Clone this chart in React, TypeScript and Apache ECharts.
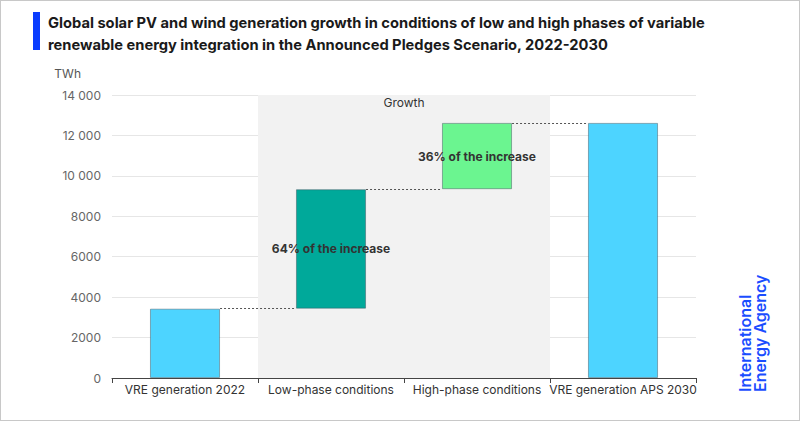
import React, { useEffect, useRef } from "react";
import * as echarts from "echarts";

const categories = ["VRE generation 2022", "Low-phase conditions", "High-phase conditions", "VRE generation APS 2030"];
const start2022 = 3430;
const increases = [5910, 3280];
const barColors = ["#4dd4ff", "#00a99a", "#6bf590", "#4dd4ff"];
const yTicks = { min: 0, max: 14000, interval: 2000 };
const growthRange = [1, 3];

const total = start2022 + increases.reduce((a, b) => a + b, 0);
const sumInc = increases.reduce((a, b) => a + b, 0);
const baseValues: number[] = [0];
const visValues: number[] = [start2022];
let cum = start2022;
increases.forEach((v) => {
  baseValues.push(cum);
  visValues.push(v);
  cum += v;
});
baseValues.push(0);
visValues.push(total);
const tops = visValues.map((v, i) => v + baseValues[i]);
const labelTexts = visValues.map((v, i) =>
  i > 0 && i < visValues.length - 1 ? `${Math.round((v / sumInc) * 100)}% of the increase` : ""
);

const BAR_RATIO = 0.48;

export default function App() {
  const ref = useRef<HTMLDivElement>(null);
  useEffect(() => {
    if (!ref.current) return;
    const chart = echarts.init(ref.current, null, { renderer: "svg" });
    const hw = BAR_RATIO / 2;
    const connectors = tops.slice(0, -1).map((v, i) => [
      { coord: [i + 0.5 + hw, v] },
      { coord: [i + 1.5 - hw, v] },
    ]);
    const font = "Inter, 'Noto Sans', sans-serif";
    chart.setOption({
      animation: false,
      textStyle: { fontFamily: font },
      grid: { left: 112, right: 104, top: 95, bottom: 43 },
      xAxis: [
        {
          type: "category",
          data: categories,
          axisLine: { lineStyle: { color: "#444", width: 1 } },
          axisTick: { show: true, length: 5, lineStyle: { color: "#444" } },
          axisLabel: { color: "#333", fontSize: 12, margin: 5, interval: 0, fontFamily: font },
          z: 5,
        },
        { type: "value", min: 0, max: categories.length, show: false },
      ],
      yAxis: {
        type: "value",
        min: yTicks.min,
        max: yTicks.max,
        interval: yTicks.interval,
        name: "TWh",
        nameGap: 16,
        nameTextStyle: { color: "#555", fontSize: 12, align: "right", padding: [0, 31, 0, 0], fontFamily: font },
        axisLine: { show: false },
        axisTick: { show: false },
        splitLine: { lineStyle: { color: "#e6e6e6", width: 1 } },
        axisLabel: {
          color: "#666",
          fontSize: 12,
          margin: 11,
          fontFamily: font,
          formatter: (v: number) => (v >= 10000 ? `${Math.floor(v / 1000)} ${String(v % 1000).padStart(3, "0")}` : String(v)),
        },
      },
      series: [
        {
          type: "line",
          xAxisIndex: 1,
          yAxisIndex: 0,
          data: [],
          z: 1,
          silent: true,
          markArea: {
            silent: true,
            itemStyle: { color: "#f2f2f2" },
            label: { show: true, position: "insideTop", color: "#333", fontSize: 12, distance: 1, fontFamily: font },
            data: [[{ name: "Growth", coord: [growthRange[0], yTicks.max] }, { coord: [growthRange[1], yTicks.min] }]],
          },
          markLine: {
            silent: true,
            symbol: "none",
            label: { show: false },
            lineStyle: { type: [2, 2], color: "#555", width: 1 },
            data: connectors,
          },
        },
        {
          type: "bar",
          stack: "w",
          barWidth: `${BAR_RATIO * 100}%`,
          data: baseValues,
          itemStyle: { color: "transparent" },
          silent: true,
          z: 3,
        },
        {
          type: "bar",
          stack: "w",
          barWidth: `${BAR_RATIO * 100}%`,
          z: 3,
          data: visValues.map((v, i) => ({
            value: v,
            itemStyle: { color: barColors[i], borderColor: "rgba(60,80,90,0.45)", borderWidth: 1 },
            label: {
              show: labelTexts[i] !== "",
              position: "inside",
              formatter: () => labelTexts[i],
              color: "#333",
              fontSize: 12,
              fontWeight: "bold",
              fontFamily: font,
            },
          })),
        },
      ],
      graphic: [
        { type: "rect", left: 33, top: 12, shape: { width: 7, height: 38 }, style: { fill: "#0a3cff" } },
        {
          type: "text",
          left: 48,
          top: 12,
          style: {
            text: "Global solar PV and wind generation growth in conditions of low and high phases of variable\nrenewable energy integration in the Announced Pledges Scenario, 2022-2030",
            fill: "#1a1a1a",
            font: `bold 14.7px ${font}`,
            lineHeight: 22,
          },
        },
        {
          type: "text",
          x: 752,
          y: 392,
          rotation: Math.PI / 2,
          style: {
            text: "International\nEnergy Agency",
            fill: "#1a4dff",
            font: `600 16px ${font}`,
            lineHeight: 15,
            align: "left",
            verticalAlign: "middle",
          },
        },
      ],
    });
    return () => chart.dispose();
  }, []);
  return (
    <div
      style={{
        position: "fixed",
        left: 0,
        top: 0,
        width: 800,
        height: 421,
        border: "1px solid #c8c8c8",
        boxSizing: "border-box",
        background: "#fff",
      }}
    >
      <div ref={ref} style={{ position: "absolute", left: -1, top: -1, width: 800, height: 421 }} />
    </div>
  );
}
